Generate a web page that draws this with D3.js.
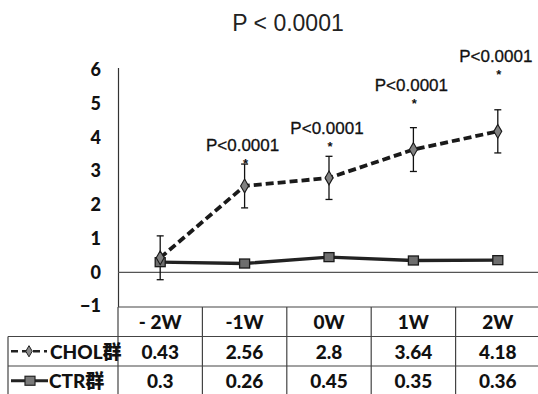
<!DOCTYPE html>
<html>
<head>
<meta charset="utf-8">
<script src="https://cdn.jsdelivr.net/npm/d3@7"></script>
<style>
  body { margin: 0; background: #fff; }
  svg { display: block; }
</style>
</head>
<body>
<svg width="538" height="394"></svg>
<script>
// data
const weeks = ['- 2W', '-1W', '0W', '1W', '2W'];
const cholMean = [0.43, 2.56, 2.8, 3.64, 4.18];
const cholErr = [0.65, 0.65, 0.64, 0.65, 0.64];
const ctrMean = [0.3, 0.26, 0.45, 0.35, 0.36];
const seriesNames = ['CHOL群', 'CTR群'];
const yTicks = [-1, 0, 1, 2, 3, 4, 5, 6];
const pLabel = 'P<0.0001';
const starLevel = [null, 3.27, 3.77, 5.04, 5.9];

const svg = d3.select('svg');
const tableTop = 307, rowH = 29.5;
const numFont = 'Lato, "Open Sans", sans-serif';

const x = d3.scaleBand().domain(weeks).range([118, 540]).paddingInner(0);
const y = d3.scaleLinear().domain([-1, 6]).range([306, 70]);
const cx = d => x(d) + x.bandwidth() / 2;

// title
svg.append('text')
  .attr('x', 288).attr('y', 31)
  .attr('text-anchor', 'middle')
  .attr('font-family', '"Liberation Sans", Arial, sans-serif')
  .attr('font-size', 23)
  .attr('fill', '#222')
  .text('P < 0.0001');

// y axis
const yAxis = svg.append('g')
  .attr('transform', 'translate(118,0)')
  .call(d3.axisLeft(y).tickValues(yTicks).tickSize(0).tickPadding(17).tickFormat(d3.format('d')));
yAxis.select('.domain').attr('stroke', '#333').attr('stroke-width', 1.2).attr('d', `M0.5,${y(6) - 2}V${tableTop}`);
yAxis.selectAll('text')
  .attr('font-family', numFont)
  .attr('font-weight', 900)
  .attr('font-size', 18)
  .attr('fill', '#111');

// zero line
svg.append('line')
  .attr('x1', 118).attr('x2', 538)
  .attr('y1', y(0)).attr('y2', y(0))
  .attr('stroke', '#555').attr('stroke-width', 1.2);

// CTR line (solid)
const line = d3.line().x(d => d[0]).y(d => d[1]);
svg.append('path')
  .attr('d', line(weeks.map((w, i) => [cx(w), y(ctrMean[i])])))
  .attr('fill', 'none').attr('stroke', '#222').attr('stroke-width', 3.4);

// CHOL error bars
const eb = svg.append('g').attr('stroke', '#111').attr('stroke-width', 1.3);
weeks.forEach((w, i) => {
  const top = y(cholMean[i] + cholErr[i]), bot = y(cholMean[i] - cholErr[i]);
  eb.append('line').attr('x1', cx(w)).attr('x2', cx(w)).attr('y1', top).attr('y2', bot);
  eb.append('line').attr('x1', cx(w) - 3.5).attr('x2', cx(w) + 3.5).attr('y1', top).attr('y2', top);
  eb.append('line').attr('x1', cx(w) - 3.5).attr('x2', cx(w) + 3.5).attr('y1', bot).attr('y2', bot);
});

// CHOL line (dashed)
svg.append('path')
  .attr('d', line(weeks.map((w, i) => [cx(w), y(cholMean[i])])))
  .attr('fill', 'none').attr('stroke', '#1a1a1a').attr('stroke-width', 3.8)
  .attr('stroke-dasharray', '8,4');

// markers
svg.append('g').selectAll('rect')
  .data(ctrMean)
  .join('rect')
  .attr('x', (d, i) => cx(weeks[i]) - 5).attr('y', d => y(d) - 4.5)
  .attr('width', 10).attr('height', 9)
  .attr('fill', '#6e6e6e').attr('stroke', '#1a1a1a').attr('stroke-width', 1.3);

const diamond = d3.symbol().type(d3.symbolDiamond).size(55);
svg.append('g').selectAll('path')
  .data(cholMean)
  .join('path')
  .attr('d', diamond)
  .attr('transform', (d, i) => `translate(${cx(weeks[i])},${y(d)})`)
  .attr('fill', '#808080').attr('stroke', '#1a1a1a').attr('stroke-width', 1.1);

// significance labels
const ann = svg.append('g')
  .attr('font-family', '"Liberation Sans", Arial, sans-serif')
  .attr('fill', '#111')
  .attr('text-anchor', 'middle');
weeks.forEach((w, i) => {
  if (starLevel[i] == null) return;
  ann.append('text').attr('x', cx(w) + 1).attr('y', y(starLevel[i]) + 6)
    .attr('font-size', 13).attr('font-weight', 'bold').text('*');
  ann.append('text').attr('x', cx(w) - 2).attr('y', y(starLevel[i]) - 11)
    .attr('font-size', 17).attr('stroke', '#111').attr('stroke-width', 0.3).text(pLabel);
});

// data table
const tbl = svg.append('g');
const grid = tbl.append('g').attr('stroke', '#444').attr('stroke-width', 1.2).attr('fill', 'none');
const bottom = tableTop + rowH * 3;
grid.append('line').attr('x1', 118).attr('x2', 538).attr('y1', tableTop).attr('y2', tableTop);
[1, 2].forEach(r => {
  grid.append('line').attr('x1', 8).attr('x2', 538)
    .attr('y1', tableTop + rowH * r).attr('y2', tableTop + rowH * r);
});
grid.append('line').attr('x1', 8).attr('x2', 538).attr('y1', bottom).attr('y2', bottom);
grid.append('line').attr('x1', 8).attr('x2', 8).attr('y1', tableTop + rowH).attr('y2', bottom);
weeks.forEach(w => {
  grid.append('line').attr('x1', x(w)).attr('x2', x(w)).attr('y1', tableTop).attr('y2', bottom);
});

const cellText = (tx, ty, s, anchor) => tbl.append('text')
  .attr('x', tx).attr('y', ty)
  .attr('text-anchor', anchor || 'middle')
  .attr('dominant-baseline', 'central')
  .attr('font-family', numFont + ', "Noto Sans CJK SC"')
  .attr('font-weight', 900)
  .attr('font-size', 19)
  .attr('fill', '#111')
  .text(s);

weeks.forEach((w, i) => {
  cellText(cx(w), tableTop + rowH * 0.5, w);
  cellText(cx(w), tableTop + rowH * 1.5, cholMean[i]);
  cellText(cx(w), tableTop + rowH * 2.5, ctrMean[i]);
});

// legend keys in row headers
const r1 = tableTop + rowH * 1.5, r2 = tableTop + rowH * 2.5;
tbl.append('line').attr('x1', 11).attr('x2', 47).attr('y1', r1).attr('y2', r1)
  .attr('stroke', '#222').attr('stroke-width', 2.5).attr('stroke-dasharray', '7,4');
tbl.append('path').attr('d', d3.symbol().type(d3.symbolDiamond).size(36))
  .attr('transform', `translate(29,${r1})`)
  .attr('fill', '#888').attr('stroke', '#222').attr('stroke-width', 1);
cellText(50, r1, seriesNames[0], 'start');

tbl.append('line').attr('x1', 11).attr('x2', 48).attr('y1', r2).attr('y2', r2)
  .attr('stroke', '#222').attr('stroke-width', 3);
tbl.append('rect').attr('x', 25).attr('y', r2 - 4.5).attr('width', 10).attr('height', 9)
  .attr('fill', '#7a7a7a').attr('stroke', '#222').attr('stroke-width', 1.2);
cellText(49, r2, seriesNames[1], 'start');
</script>
</body>
</html>
